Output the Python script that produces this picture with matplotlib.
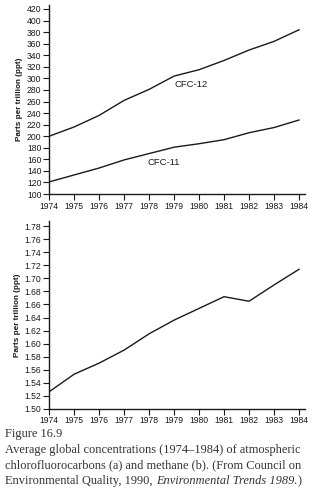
import matplotlib
matplotlib.use("Agg")
import matplotlib.pyplot as plt

# data
years = [1974, 1975, 1976, 1977, 1978, 1979, 1980, 1981, 1982, 1983, 1984]
cfc12 = [200, 216, 236, 262, 281, 304, 315, 331, 349, 364, 384]
cfc11 = [121, 133, 145, 159, 170, 181, 187, 194, 206, 215, 228]
methane = [1.526, 1.553, 1.570, 1.590, 1.615, 1.636, 1.654, 1.672, 1.665, 1.690, 1.714]

top_ticks = list(range(100, 440, 20))
bottom_ticks = [round(1.50 + 0.02 * i, 2) for i in range(15)]

ylabel = "Parts per trillion (ppt)"
caption_title = "Figure 16.9"
caption_lines = [
    "Average global concentrations (1974\u20131984) of atmospheric",
    "chlorofluorocarbons (a) and methane (b). (From Council on",
]
caption_last = ["Environmental Quality, 1990, ", "Environmental Trends 1989.", ")"]

plt.rcParams["font.family"] = ["Liberation Sans", "DejaVu Sans"]
ink = "#1a1a1a"

fig = plt.figure(figsize=(3.15, 4.95), dpi=100)
ax1 = fig.add_axes([0.156, 0.608, 0.813, 0.382])
ax2 = fig.add_axes([0.156, 0.1743, 0.813, 0.379])


def style(ax, ticks, fmt):
    for s in ["top", "right"]:
        ax.spines[s].set_visible(False)
    for s in ["left", "bottom"]:
        ax.spines[s].set_linewidth(1.0)
        ax.spines[s].set_color(ink)
    ax.set_xlim(1974, 1984.25)
    ax.set_xticks(years)
    ax.set_xticklabels([str(y) for y in years])
    ax.set_yticks(ticks)
    ax.set_yticklabels([fmt(t) for t in ticks])
    ax.tick_params(labelsize=6.2, length=4, width=0.8, pad=1.5, colors=ink)
    ax.set_ylabel(ylabel, fontsize=5.9, fontweight="bold", color=ink, labelpad=3)


style(ax1, top_ticks, lambda t: str(t))
ax1.set_ylim(100, 427)
ax1.plot(years, cfc12, color=ink, lw=1.0)
ax1.plot(years, cfc11, color=ink, lw=1.0)
ax1.text(1979.7, 290, "CFC-12", fontsize=6.8, ha="center", va="center", color=ink)
ax1.text(1978.6, 155, "CFC-11", fontsize=6.8, ha="center", va="center", color=ink)

style(ax2, bottom_ticks, lambda t: f"{t:.2f}")
ax2.set_ylim(1.50, 1.788)
ax2.plot(years, methane, color=ink, lw=1.0)

# caption
cap_kw = dict(fontsize=8.9, family="Liberation Serif", color="#333333", va="baseline")
fig.text(0.016, 1 - 437 / 495, caption_title, **cap_kw)
for i, line in enumerate(caption_lines):
    fig.text(0.016, 1 - (453 + 15.5 * i) / 495, line, **cap_kw)

fig.canvas.draw()
renderer = fig.canvas.get_renderer()
x = 0.016
y = 1 - 484 / 495
for j, part in enumerate(caption_last):
    t = fig.text(x, y, part, style="italic" if j == 1 else "normal", **cap_kw)
    bb = t.get_window_extent(renderer)
    x += bb.width / fig.bbox.width

fig.savefig("out.png", dpi=100)
